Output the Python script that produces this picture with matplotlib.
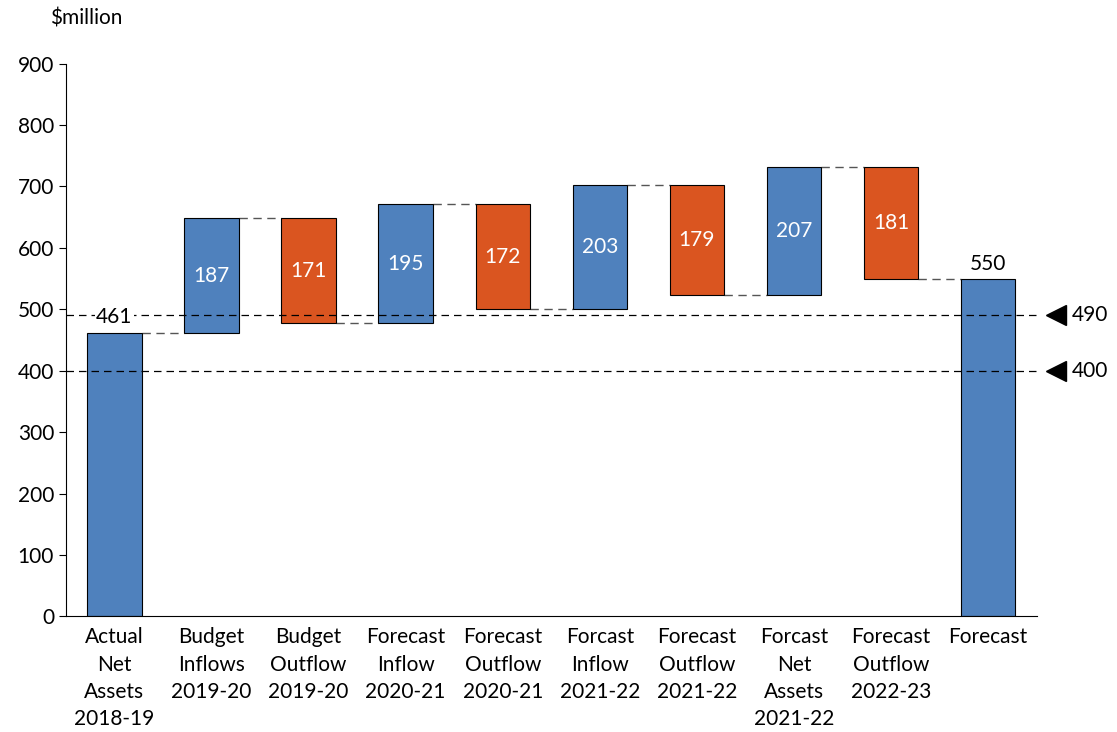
import matplotlib.pyplot as plt

plt.rcParams['font.family'] = ['Lato', 'DejaVu Sans']

# Waterfall data ($million)
categories = ['Actual\nNet\nAssets\n2018-19', 'Budget\nInflows\n2019-20', 'Budget\nOutflow\n2019-20',
              'Forecast\nInflow\n2020-21', 'Forecast\nOutflow\n2020-21', 'Forcast\nInflow\n2021-22',
              'Forecast\nOutflow\n2021-22', 'Forcast\nNet\nAssets\n2021-22', 'Forecast\nOutflow\n2022-23',
              'Forecast']
start_value = 461
changes = [187, -171, 195, -172, 203, -179, 207, -181]
end_value = 550
thresholds = [490, 400]

blue = '#4F81BD'
orange = '#DA5520'
fs = 15

fig = plt.figure(figsize=(11.17, 7.32), dpi=100)
ax = fig.add_axes([0.059, 0.158, 0.869, 0.755])

width = 0.56

# running totals
bottoms, heights, colors = [], [], []
level = start_value
bottoms.append(0); heights.append(start_value); colors.append(blue)
tops = [start_value]
for c in changes:
    new = level + c
    bottoms.append(min(level, new))
    heights.append(abs(c))
    colors.append(blue if c > 0 else orange)
    level = new
    tops.append(level)
bottoms.append(0); heights.append(end_value); colors.append(blue)

x = list(range(len(categories)))
ax.bar(x, heights, bottom=bottoms, width=width, color=colors, edgecolor='black',
       linewidth=0.8, zorder=2)

# connectors between bars
for i, lv in enumerate(tops):
    ax.plot([i + width / 2, i + 1 - width / 2], [lv, lv], color='#555555',
            linestyle=(0, (6, 4)), linewidth=1, zorder=1)

# threshold lines with markers to the right
for t in thresholds:
    ax.axhline(t, color='black', linestyle=(0, (6, 4)), linewidth=0.9, zorder=3)
    ax.plot([9.7], [t], marker='<', markersize=15, color='black', clip_on=False)
    ax.text(9.86, t, str(t), va='center', ha='left', fontsize=fs, clip_on=False)

# value labels
ax.text(0, start_value + 10, str(start_value), ha='center', va='bottom', fontsize=fs,
        bbox=dict(facecolor='white', edgecolor='none', pad=1), zorder=4)
ax.text(9, end_value + 8, str(end_value), ha='center', va='bottom', fontsize=fs, zorder=4)
for i, c in enumerate(changes, start=1):
    ax.text(i, bottoms[i] + heights[i] / 2, str(abs(c)), ha='center', va='center',
            color='white', fontsize=fs, zorder=4)

ax.set_xlim(-0.5, 9.5)
ax.set_ylim(0, 900)
ax.set_yticks(range(0, 901, 100))
ax.set_xticks(x)
ax.set_xticklabels(categories, fontsize=fs, linespacing=1.45)
ax.tick_params(axis='x', length=0, pad=8)
ax.tick_params(axis='y', labelsize=fs, length=5, direction='out')
ax.spines['top'].set_visible(False)
ax.spines['right'].set_visible(False)

fig.text(0.045, 0.975, '$million', fontsize=fs, ha='left', va='center')

plt.savefig('out.png', dpi=100)
